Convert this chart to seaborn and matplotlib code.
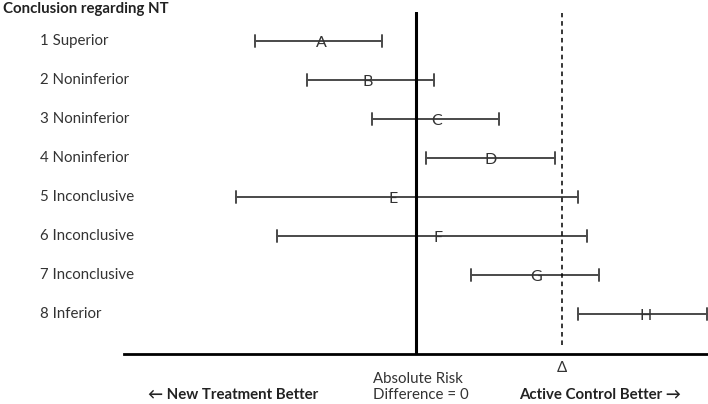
import numpy as np
import pandas as pd
import seaborn as sns
import matplotlib.pyplot as plt
import matplotlib.transforms as mtransforms

# risk difference, in units of the noninferiority margin (delta = 1)
trials = ["A", "B", "C", "D", "E", "F", "G", "H"]
conclusions = ["1 Superior", "2 Noninferior", "3 Noninferior", "4 Noninferior",
               "5 Inconclusive", "6 Inconclusive", "7 Inconclusive", "8 Inferior"]
lower = [-1.10, -0.75, -0.30, 0.07, -1.23, -0.95, 0.38, 1.11]
upper = [-0.23, 0.12, 0.57, 0.95, 1.11, 1.17, 1.25, 1.99]
estimate = [-0.65, -0.33, 0.14, 0.51, -0.16, 0.15, 0.82, 1.57]
delta = 1.0

sns.set_theme(style="white")
plt.rcParams["font.family"] = ["Lato", "DejaVu Sans"]
fs = 10.8

df = pd.DataFrame({
    "trial": trials * 2,
    "value": lower + upper,
})

fig = plt.figure(figsize=(7.08, 4.04), dpi=100)
ax = fig.add_axes([124 / 708, 50 / 404, 1 - 124 / 708, 342 / 404])

sns.pointplot(data=df, x="value", y="trial", order=trials, orient="h",
              estimator="mean", errorbar=("pi", 100), linestyle="none",
              marker="", capsize=0.3, color="#4a4a4a",
              err_kws={"linewidth": 1.4}, ax=ax)

for i, (t, e) in enumerate(zip(trials, estimate)):
    ax.text(e, i + 0.05, t, ha="center", va="center", fontsize=11.5, color="#333333")

ax.axvline(0, color="black", linewidth=2.2)
ax.axvline(delta, ymin=0.026, ymax=0.997, color="black", linewidth=1.1,
           linestyle=(0, (3, 2.5)))

ax.set_xlim(-2, 2)
ax.set_ylim(8.026, -0.744)
ax.set_xlabel("")
ax.set_ylabel("")
ax.set_xticks([])
ax.set_yticks([])
for s in ["top", "right", "left"]:
    ax.spines[s].set_visible(False)
ax.spines["bottom"].set_color("black")
ax.spines["bottom"].set_linewidth(2)

trans = mtransforms.blended_transform_factory(fig.transFigure, ax.transData)
for i, lab in enumerate(conclusions):
    ax.text(40 / 708, i, lab, transform=trans, ha="left", va="center",
            fontsize=fs, color="#333333")

fig.text(3 / 708, 1 - 9 / 404, "Conclusion regarding NT", ha="left", va="center",
         fontsize=fs, fontweight="bold", color="#222222")

xt = mtransforms.blended_transform_factory(ax.transData, fig.transFigure)
ax.text(delta, 1 - 368 / 404, "Δ", transform=xt, ha="center", va="center",
        fontsize=fs, color="#333333")
fig.text(373 / 708, 1 - 387 / 404, "Absolute Risk\nDifference = 0", ha="left",
         va="center", fontsize=fs, color="#333333", linespacing=1.15)
fig.text(148 / 708, 1 - 395 / 404, "← New Treatment Better", ha="left", va="center",
         fontsize=fs, fontweight="bold", color="#222222")
fig.text(519 / 708, 1 - 395 / 404, "Active Control Better →", ha="left", va="center",
         fontsize=fs, fontweight="bold", color="#222222")

fig.savefig("out.png", dpi=100)
